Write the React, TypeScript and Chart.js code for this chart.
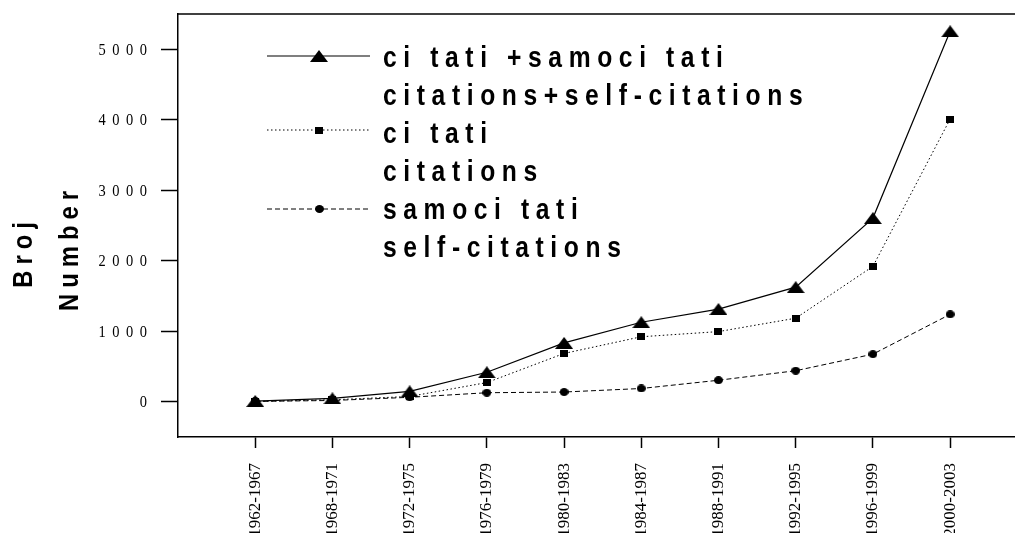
import React, { useEffect, useRef } from "react";
import { Chart, registerables } from "chart.js";

Chart.register(...registerables);

const periods = [
  "1962-1967",
  "1968-1971",
  "1972-1975",
  "1976-1979",
  "1980-1983",
  "1984-1987",
  "1988-1991",
  "1992-1995",
  "1996-1999",
  "2000-2003",
];
const totalCitations = [10, 48, 148, 418, 835, 1128, 1315, 1625, 2605, 5255];
const citations = [5, 28, 75, 272, 685, 922, 995, 1185, 1920, 4010];
const selfCitations = [5, 18, 63, 128, 138, 188, 305, 440, 675, 1240];
const yTickValues = [0, 1000, 2000, 3000, 4000, 5000];
const yTickLabels = ["0", "1000", "2000", "3000", "4000", "5000"];
const legendLines = [
  ["ci tati +samoci tati", "citations+self-citations"],
  ["ci tati", "citations"],
  ["samoci tati", "self-citations"],
];
const yTitleLines = ["Broj", "Number"];

function makeMarker(kind: string, w: number, h: number): HTMLCanvasElement {
  const c = document.createElement("canvas");
  c.width = w;
  c.height = h;
  const g = c.getContext("2d")!;
  g.fillStyle = "#000";
  g.beginPath();
  if (kind === "tri") {
    g.moveTo(w / 2, 0);
    g.lineTo(w, h);
    g.lineTo(0, h);
    g.closePath();
    g.fill();
  } else if (kind === "ellipse") {
    g.ellipse(w / 2, h / 2, w / 2, h / 2, 0, 0, Math.PI * 2);
    g.fill();
  } else {
    g.fillRect(0, 0, w, h);
  }
  return c;
}

function drawSpaced(
  ctx: CanvasRenderingContext2D,
  text: string,
  x: number,
  y: number,
  font: string,
  sx: number,
  ls: number,
  align: string,
  rotate: boolean,
  baseline: string
) {
  ctx.save();
  ctx.translate(x, y);
  if (rotate) ctx.rotate(-Math.PI / 2);
  ctx.scale(sx, 1);
  ctx.font = font;
  ctx.fillStyle = "#000";
  ctx.textAlign = "left";
  ctx.textBaseline = baseline as CanvasTextBaseline;
  (ctx as any).letterSpacing = "0px";
  const base = ctx.measureText(text).width;
  const lsU = ls / sx;
  const n = Array.from(text).length;
  const total = base + (n - 1) * lsU;
  (ctx as any).letterSpacing = lsU + "px";
  let start = 0;
  if (align === "right") start = -total;
  else if (align === "center") start = -total / 2;
  ctx.fillText(text, start, 0);
  ctx.restore();
}

export default function App() {
  const ref = useRef<HTMLCanvasElement>(null);

  useEffect(() => {
    if (!ref.current) return;
    const tri = makeMarker("tri", 18, 12);
    const sq = makeMarker("rect", 8, 7);
    const circ = makeMarker("ellipse", 9, 8);

    const dash1: number[] = [];
    const dash2 = [1.5, 2.5];
    const dash3 = [5, 3];

    const overlay = {
      id: "overlay",
      afterDraw(chart: any) {
        const ctx: CanvasRenderingContext2D = chart.ctx;
        const area = chart.chartArea;
        const yScale = chart.scales.y;
        ctx.save();
        ctx.strokeStyle = "#000";
        ctx.lineWidth = 1.5;
        ctx.beginPath();
        ctx.moveTo(area.left, area.top);
        ctx.lineTo(chart.width, area.top);
        ctx.stroke();
        ctx.restore();

        yTickValues.forEach((v, i) => {
          const py = yScale.getPixelForValue(v);
          drawSpaced(ctx, yTickLabels[i], 147, py + 1, '17px "Liberation Serif"', 0.85, 6.5, "right", false, "middle");
        });

        drawSpaced(ctx, yTitleLines[0], 32, 255, 'bold 28px "Liberation Sans"', 0.85, 6, "center", true, "alphabetic");
        drawSpaced(ctx, yTitleLines[1], 78, 251, 'bold 28px "Liberation Sans"', 0.85, 6, "center", true, "alphabetic");

        const sampleY = [56, 130, 209];
        const dashes = [dash1, dash2, dash3];
        const markers = [tri, sq, circ];
        const widths = [1.2, 1, 1];
        const baselines = [[67, 105], [143, 181], [219, 257]];
        for (let k = 0; k < 3; k++) {
          ctx.save();
          ctx.strokeStyle = "#000";
          ctx.lineWidth = widths[k];
          ctx.setLineDash(dashes[k]);
          ctx.beginPath();
          ctx.moveTo(267, sampleY[k]);
          ctx.lineTo(370, sampleY[k]);
          ctx.stroke();
          ctx.restore();
          const m = markers[k];
          ctx.drawImage(m, Math.round(319 - m.width / 2), Math.round(sampleY[k] - m.height / 2));
          legendLines[k].forEach((t, j) => {
            drawSpaced(ctx, t, 383, baselines[k][j], 'bold 29px "Liberation Sans"', 0.85, 6.6, "left", false, "alphabetic");
          });
        }
      },
    };

    const toPts = (arr: number[]) => arr.map((v, i) => ({ x: i, y: v }));

    const chart = new Chart(ref.current, {
      type: "line",
      data: {
        datasets: [
          {
            label: legendLines[0].join(" "),
            data: toPts(totalCitations),
            borderColor: "#000",
            backgroundColor: "#000",
            borderWidth: 1.2,
            borderDash: dash1,
            pointStyle: tri as any,
            pointRadius: 6,
            tension: 0,
          },
          {
            label: legendLines[1].join(" "),
            data: toPts(citations),
            borderColor: "#000",
            backgroundColor: "#000",
            borderWidth: 1,
            borderDash: dash2,
            pointStyle: sq as any,
            pointRadius: 5,
            tension: 0,
          },
          {
            label: legendLines[2].join(" "),
            data: toPts(selfCitations),
            borderColor: "#000",
            backgroundColor: "#000",
            borderWidth: 1,
            borderDash: dash3,
            pointStyle: circ as any,
            pointRadius: 5,
            tension: 0,
          },
        ],
      },
      options: {
        animation: false,
        responsive: false,
        layout: { autoPadding: false, padding: { top: 14, left: 0, right: 0, bottom: 0 } },
        plugins: {
          legend: { display: false },
          tooltip: { enabled: false },
        },
        scales: {
          x: {
            type: "linear",
            min: -1,
            max: 9.84,
            afterBuildTicks: (scale: any) => {
              scale.ticks = periods.map((_, i) => ({ value: i }));
            },
            afterFit: (scale: any) => {
              scale.height = 96;
              scale.paddingRight = 0;
              scale.paddingLeft = 0;
            },
            ticks: {
              autoSkip: false,
              minRotation: 90,
              maxRotation: 90,
              padding: 15,
              color: "#000",
              font: { family: '"Liberation Serif"', size: 17 },
              callback: (v: any) => periods[Math.round(Number(v))] ?? "",
            },
            grid: {
              drawOnChartArea: false,
              drawTicks: true,
              tickLength: 11,
              tickColor: "#000",
              tickWidth: 1.5,
            },
            border: { display: true, color: "#000", width: 1.5 },
          },
          y: {
            type: "linear",
            position: "left",
            min: -500,
            max: 5500,
            afterBuildTicks: (scale: any) => {
              scale.ticks = yTickValues.map((v) => ({ value: v }));
            },
            afterFit: (scale: any) => {
              scale.width = 178;
              scale.paddingTop = 0;
              scale.paddingBottom = 0;
            },
            ticks: { display: false },
            grid: {
              drawOnChartArea: false,
              drawTicks: true,
              tickLength: 17,
              tickColor: "#000",
              tickWidth: 1.5,
            },
            border: { display: true, color: "#000", width: 1.5 },
          },
        },
      },
      plugins: [overlay],
    } as any);

    return () => chart.destroy();
  }, []);

  return (
    <div style={{ position: "fixed", left: 0, top: 0, width: 1015, height: 533, background: "#fff" }}>
      <canvas ref={ref} width={1015} height={533} style={{ display: "block" }} />
    </div>
  );
}
